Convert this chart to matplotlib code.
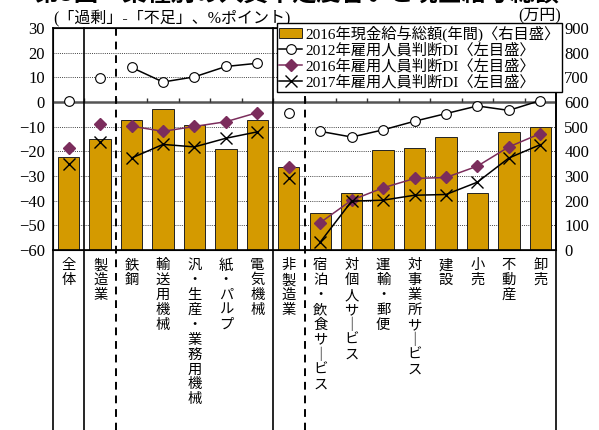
import matplotlib
matplotlib.use("Agg")
import matplotlib.pyplot as plt
from matplotlib.lines import Line2D
from matplotlib.patches import Patch
import numpy as np

plt.rcParams['font.family'] = ['Liberation Serif', 'Noto Sans CJK JP', 'DejaVu Sans']

# ---------------------------------------------------------------------------
# データ
# ---------------------------------------------------------------------------
categories = ["全体", "製造業", "鉄鋼", "輸送用機械", "汎・生産・業務用機械",
              "紙・パルプ", "電気機械", "非製造業", "宿泊・飲食サービス",
              "対個人サービス", "運輸・郵便", "対事業所サービス", "建設",
              "小売", "不動産", "卸売"]

wage_2016 = [377, 452, 528, 570, 506, 411, 529, 338,
             150, 233, 404, 412, 458, 230, 477, 500]          # 万円 (右目盛)
di_2012 = [0.5, 9.6, 14.0, 8.1, 10.2, 14.4, 15.7, -4.6,
           -11.9, -14.2, -11.3, -7.8, -4.7, -1.6, -3.4, 0.6]
di_2016 = [-18.6, -8.8, -9.8, -11.9, -9.9, -8.0, -4.3, -26.3,
           -48.9, -39.8, -34.8, -31.0, -30.6, -26.0, -18.2, -12.8]
di_2017 = [-25.1, -16.1, -22.7, -17.2, -18.2, -14.7, -12.1, -30.7,
           -56.8, -40.2, -39.8, -37.8, -37.5, -32.5, -22.7, -17.3]

# 線で結ぶ区間（製造業内訳・非製造業内訳）
groups = [(2, 7), (8, 16)]

left_ticks = list(range(-60, 31, 10))
right_ticks = list(range(0, 901, 100))

bar_color = "#D49A00"
purple = "#7B2D5C"


def vertical(s):
    """縦書き用に1文字ずつ改行する"""
    return "\n".join("｜" if c == "ー" else c for c in s)


# ---------------------------------------------------------------------------
# 描画
# ---------------------------------------------------------------------------
fig = plt.figure(figsize=(5.99, 4.30), dpi=100)
ax = fig.add_axes([53 / 599, 1 - 250 / 430, 503 / 599, 222 / 430])
ax2 = ax.twinx()
ax.set_zorder(ax2.get_zorder() + 1)
ax.patch.set_visible(False)

x = np.arange(len(categories))

# 棒（右目盛）
ax2.bar(x, wage_2016, width=0.68, color=bar_color, edgecolor="#222222",
        linewidth=0.7, zorder=2)
ax2.set_ylim(0, 900)
ax2.set_yticks(right_ticks)
for t in right_ticks[1:-1]:
    ax2.axhline(t, color="#444444", lw=0.7, ls=(0, (1, 1.2)), zorder=1)

# 折れ線（左目盛）
ms = dict(markersize=7)
for i in (0, 1, 7):
    ax.plot(x[i], di_2012[i], "o", color="black", mfc="white", mew=0.8, **ms)
    ax.plot(x[i], di_2016[i], "D", color=purple, markersize=6.5)
    ax.plot(x[i], di_2017[i], "x", color="black", mew=1.0, markersize=8)
for a, b in groups:
    ax.plot(x[a:b], di_2012[a:b], "-o", color="black", lw=1.1, mfc="white", mew=0.8, **ms)
    ax.plot(x[a:b], di_2016[a:b], "-D", color=purple, lw=1.1, markersize=6.5)
    ax.plot(x[a:b], di_2017[a:b], "-x", color="black", lw=1.1, mew=1.0, markersize=8)

ax.set_ylim(-60, 30)
ax.set_yticks(left_ticks)
ax.set_xlim(-0.5, len(categories) - 0.5)

# 0 ライン と 区切りの目盛
ax.axhline(0, color="#555555", lw=1.8, zorder=1)
ax.vlines(x[1:] - 0.5, 0, 1.8, color="#333333", lw=1.0)

# 縦の区切り線（ラベル領域まで延長）
trans = ax.get_xaxis_transform()
ext = -0.82
for xs in (0.5, 6.5):
    ax.plot([xs, xs], [1, ext], color="black", lw=1.2, transform=trans, clip_on=False)
for xs in (1.5, 7.5):
    ax.plot([xs, xs], [1, ext], color="black", lw=1.4, ls=(0, (4, 3)),
            transform=trans, clip_on=False)
for xs in (-0.5, len(categories) - 0.5):
    ax.plot([xs, xs], [0, ext], color="black", lw=1.2, transform=trans, clip_on=False)

# 軸
ax.set_xticks(x)
ax.set_xticklabels([vertical(c) for c in categories], va="top", linespacing=1.08,
                   fontsize=10.3, family=['Noto Sans CJK JP'])
ax.tick_params(axis="x", length=0, pad=6)
ax.tick_params(axis="y", length=0, labelsize=12, pad=6)
ax2.tick_params(axis="y", length=0, labelsize=12, pad=6)
for sp in ax.spines.values():
    sp.set_linewidth(1.2)
ax2.spines["right"].set_linewidth(1.2)

# 文字
fig.text(0.058, 1.014, "第3図　業種別の人員不足度合いと現金給与総額", fontsize=17.5,
         fontweight="bold", va="center", ha="left", family=['Noto Sans CJK JP'])
fig.text(53 / 599, 1 - 19 / 430, "(「過剰」-「不足」、%ポイント)", fontsize=11.5,
         va="center", ha="left")
fig.text(561 / 599, 1 - 15 / 430, "(万円)", fontsize=11.5, va="center", ha="right")

# 凡例
handles = [
    Patch(facecolor=bar_color, edgecolor="#222222", linewidth=0.7),
    Line2D([], [], color="black", marker="o", mfc="white", mew=0.8, markersize=7, lw=1.1),
    Line2D([], [], color=purple, marker="D", markersize=6.5, lw=1.1),
    Line2D([], [], color="black", marker="x", mew=1.0, markersize=8, lw=1.1),
]
labels = ["2016年現金給与総額(年間)〈右目盛〉", "2012年雇用人員判断DI〈左目盛〉",
          "2016年雇用人員判断DI〈左目盛〉", "2017年雇用人員判断DI〈左目盛〉"]
leg = fig.legend(handles, labels, loc="upper left", bbox_to_anchor=(277 / 599, 1 - 23 / 430),
                 fontsize=11, frameon=True, fancybox=False, edgecolor="black",
                 framealpha=1, borderpad=0.15, labelspacing=0.1, handlelength=1.5,
                 handletextpad=0.2, borderaxespad=0)
leg.get_frame().set_linewidth(1.0)

fig.savefig("out.png", dpi=100)
